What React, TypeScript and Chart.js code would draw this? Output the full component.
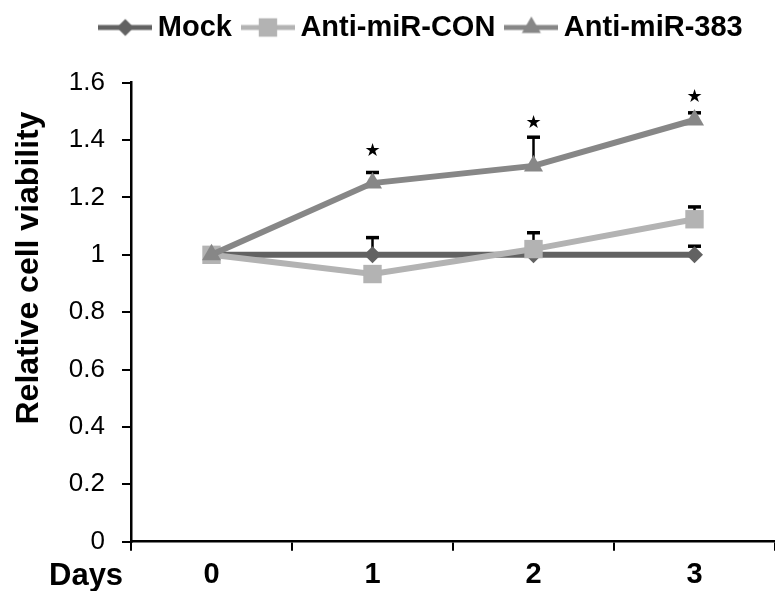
import React, { useEffect, useRef } from 'react';
import { Chart, registerables } from 'chart.js';

Chart.register(...registerables);

// ---------- data ----------
const days = ['0', '1', '2', '3'];
const seriesNames = ['Mock', 'Anti-miR-CON', 'Anti-miR-383'];
const mockValues = [1, 1, 1, 1];
const mockErrors = [0, 0.06, 0.02, 0.03];
const conValues = [1, 0.933, 1.02, 1.124];
const conErrors = [0, 0.02, 0.057, 0.043];
const mir383Values = [1, 1.25, 1.31, 1.47];
const mir383Errors = [0, 0.037, 0.1, 0.025];
const starValues = [null, 1.36, 1.46, 1.55];
const yTickLabels = ['0', '0.2', '0.4', '0.6', '0.8', '1', '1.2', '1.4', '1.6'];
const xAxisName = 'Days';
const yAxisName = 'Relative cell viability';

// ---------- styles ----------
const FONT = '"Liberation Sans", Arial, Helvetica, sans-serif';
const COLORS = ['#626262', '#b3b3b3', '#878787'];
const STYLES = ['rectRot', 'rect', 'triangle'];
const RADII = [8.5, 13, 11];

function makeIcon(style: string, color: string, r: number): HTMLCanvasElement {
  const c = document.createElement('canvas');
  c.width = 54;
  c.height = 30;
  const ctx = c.getContext('2d') as CanvasRenderingContext2D;
  ctx.strokeStyle = color;
  ctx.lineWidth = 5;
  ctx.beginPath();
  ctx.moveTo(0, 15);
  ctx.lineTo(54, 15);
  ctx.stroke();
  ctx.fillStyle = color;
  ctx.beginPath();
  const x = 27, y = 15;
  if (style === 'rectRot') {
    ctx.moveTo(x - r, y);
    ctx.lineTo(x, y - r);
    ctx.lineTo(x + r, y);
    ctx.lineTo(x, y + r);
  } else if (style === 'rect') {
    const s = r * Math.SQRT1_2;
    ctx.rect(x - s, y - s, 2 * s, 2 * s);
  } else {
    const k = Math.sin((2 * Math.PI) / 3) * r;
    ctx.moveTo(x, y - r);
    ctx.lineTo(x + k, y + r / 2);
    ctx.lineTo(x - k, y + r / 2);
  }
  ctx.closePath();
  ctx.fill();
  return c;
}

const LEGEND_PAD = 18;
const LAYOUT_TOP = -5;
const PLOT_TOP = 82.7;
const LAYOUT_LEFT = 40;
const PLOT_LEFT = 131;

export default function App() {
  const ref = useRef<HTMLCanvasElement | null>(null);

  useEffect(() => {
    if (!ref.current) return;
    const errorSets = [mockErrors, conErrors, mir383Errors];
    const valueSets = [mockValues, conValues, mir383Values];
    const icons = seriesNames.map((_, i) => makeIcon(STYLES[i], COLORS[i], RADII[i]));

    const legendPatch = {
      id: 'legendPatch',
      beforeLayout(chart: any) {
        const lg = chart.legend;
        if (lg && !lg.__patched) {
          const orig = lg.fit;
          lg.fit = function () {
            const mw = this.maxWidth;
            this.maxWidth = 5000;
            orig.call(this);
            this.maxWidth = mw;
            this.width = mw;
            this.height = PLOT_TOP - LAYOUT_TOP;
          };
          lg.__patched = true;
        }
      },
      afterLayout(chart: any) {
        const lg = chart.legend;
        if (lg) {
          lg.left = 75;
          lg.right = 775;
          lg.width = lg.right - lg.left;
        }
      },
    };

    const errorBars = {
      id: 'errorBars',
      beforeDatasetsDraw(chart: any) {
        const ctx = chart.ctx;
        const yScale = chart.scales.y;
        ctx.save();
        ctx.strokeStyle = '#000';
        errorSets.forEach((errs, di) => {
          const meta = chart.getDatasetMeta(di);
          errs.forEach((e, j) => {
            if (!e) return;
            const pt = meta.data[j];
            const x = pt.x;
            const y0 = yScale.getPixelForValue(valueSets[di][j]);
            const y1 = yScale.getPixelForValue(valueSets[di][j] + e);
            ctx.lineWidth = 2.5;
            ctx.beginPath();
            ctx.moveTo(x, y0);
            ctx.lineTo(x, y1);
            ctx.stroke();
            ctx.lineWidth = 3.5;
            ctx.beginPath();
            ctx.moveTo(x - 6.5, y1);
            ctx.lineTo(x + 6.5, y1);
            ctx.stroke();
          });
        });
        ctx.restore();
      },
    };

    const annotations = {
      id: 'annotations',
      afterDraw(chart: any) {
        const ctx = chart.ctx;
        const xs = chart.scales.x;
        const ys = chart.scales.y;
        ctx.save();
        // stars
        ctx.fillStyle = '#000';
        ctx.font = `18px "DejaVu Sans", sans-serif`;
        ctx.textAlign = 'center';
        ctx.textBaseline = 'middle';
        starValues.forEach((v, i) => {
          if (v == null) return;
          ctx.fillText('★', xs.getPixelForValue(i), ys.getPixelForValue(v));
        });
        // x axis name
        ctx.font = `bold 31px ${FONT}`;
        ctx.textAlign = 'left';
        ctx.textBaseline = 'middle';
        ctx.fillText(xAxisName, 49, 576);
        // y axis name
        ctx.font = `bold 32px ${FONT}`;
        ctx.translate(38, 268);
        ctx.rotate(-Math.PI / 2);
        ctx.textAlign = 'center';
        ctx.textBaseline = 'alphabetic';
        ctx.fillText(yAxisName, 0, 0);
        ctx.restore();
      },
    };

    const datasets = seriesNames.map((name, i) => ({
      label: name,
      data: valueSets[i],
      borderColor: COLORS[i],
      backgroundColor: COLORS[i],
      borderWidth: 6,
      pointStyle: STYLES[i],
      pointRadius: RADII[i],
      pointHoverRadius: RADII[i],
      pointBorderWidth: 0,
      pointBackgroundColor: COLORS[i],
      tension: 0,
      order: 3 - i,
      clip: false as any,
    }));

    const chart = new Chart(ref.current, {
      type: 'line',
      data: { labels: days, datasets },
      options: {
        animation: false,
        responsive: true,
        maintainAspectRatio: false,
        layout: {
          autoPadding: false,
          padding: { left: LAYOUT_LEFT, right: 0, top: LAYOUT_TOP, bottom: 0 },
        },
        plugins: {
          tooltip: { enabled: false },
          legend: {
            display: true,
            position: 'top',
            align: 'center',
            labels: {
              usePointStyle: true,
              pointStyleWidth: 36,
              padding: LEGEND_PAD,
              color: '#000',
              font: { family: FONT, size: 29, weight: 'bold' },
              generateLabels: () =>
                seriesNames.map((name, i) => ({
                  text: name,
                  pointStyle: icons[i] as any,
                  fillStyle: COLORS[i],
                  strokeStyle: COLORS[i],
                  lineWidth: 0,
                  hidden: false,
                  datasetIndex: i,
                  fontColor: '#000',
                })),
            },
          },
        },
        scales: {
          x: {
            type: 'category',
            offset: true,
            grid: {
              offset: true,
              display: true,
              drawOnChartArea: false,
              drawTicks: true,
              tickLength: 9,
              color: '#000',
              lineWidth: 2,
            },
            border: { display: true, color: '#000', width: 2.5 },
            ticks: {
              color: '#000',
              font: { family: FONT, size: 29, weight: 'bold' },
              padding: 7,
              maxRotation: 0,
            },
            afterFit: (s: any) => {
              s.height = 49.3;
              s.paddingLeft = 0;
              s.paddingRight = 0;
            },
          },
          y: {
            min: 0,
            max: 1.6,
            grid: {
              display: true,
              drawOnChartArea: false,
              drawTicks: true,
              tickLength: 9,
              color: '#000',
              lineWidth: 2,
            },
            border: { display: true, color: '#000', width: 2.5 },
            ticks: {
              stepSize: 0.2,
              color: '#000',
              font: { family: FONT, size: 26 },
              padding: 17,
              callback: (_v: any, i: number) => yTickLabels[i],
            },
            afterFit: (s: any) => {
              s.width = PLOT_LEFT - LAYOUT_LEFT;
            },
          },
        },
      },
      plugins: [legendPatch, errorBars, annotations],
    } as any);

    return () => chart.destroy();
  }, []);

  return (
    <div style={{ position: 'fixed', left: 0, top: 0, width: 775, height: 591, background: '#fff' }}>
      <canvas ref={ref} />
    </div>
  );
}
